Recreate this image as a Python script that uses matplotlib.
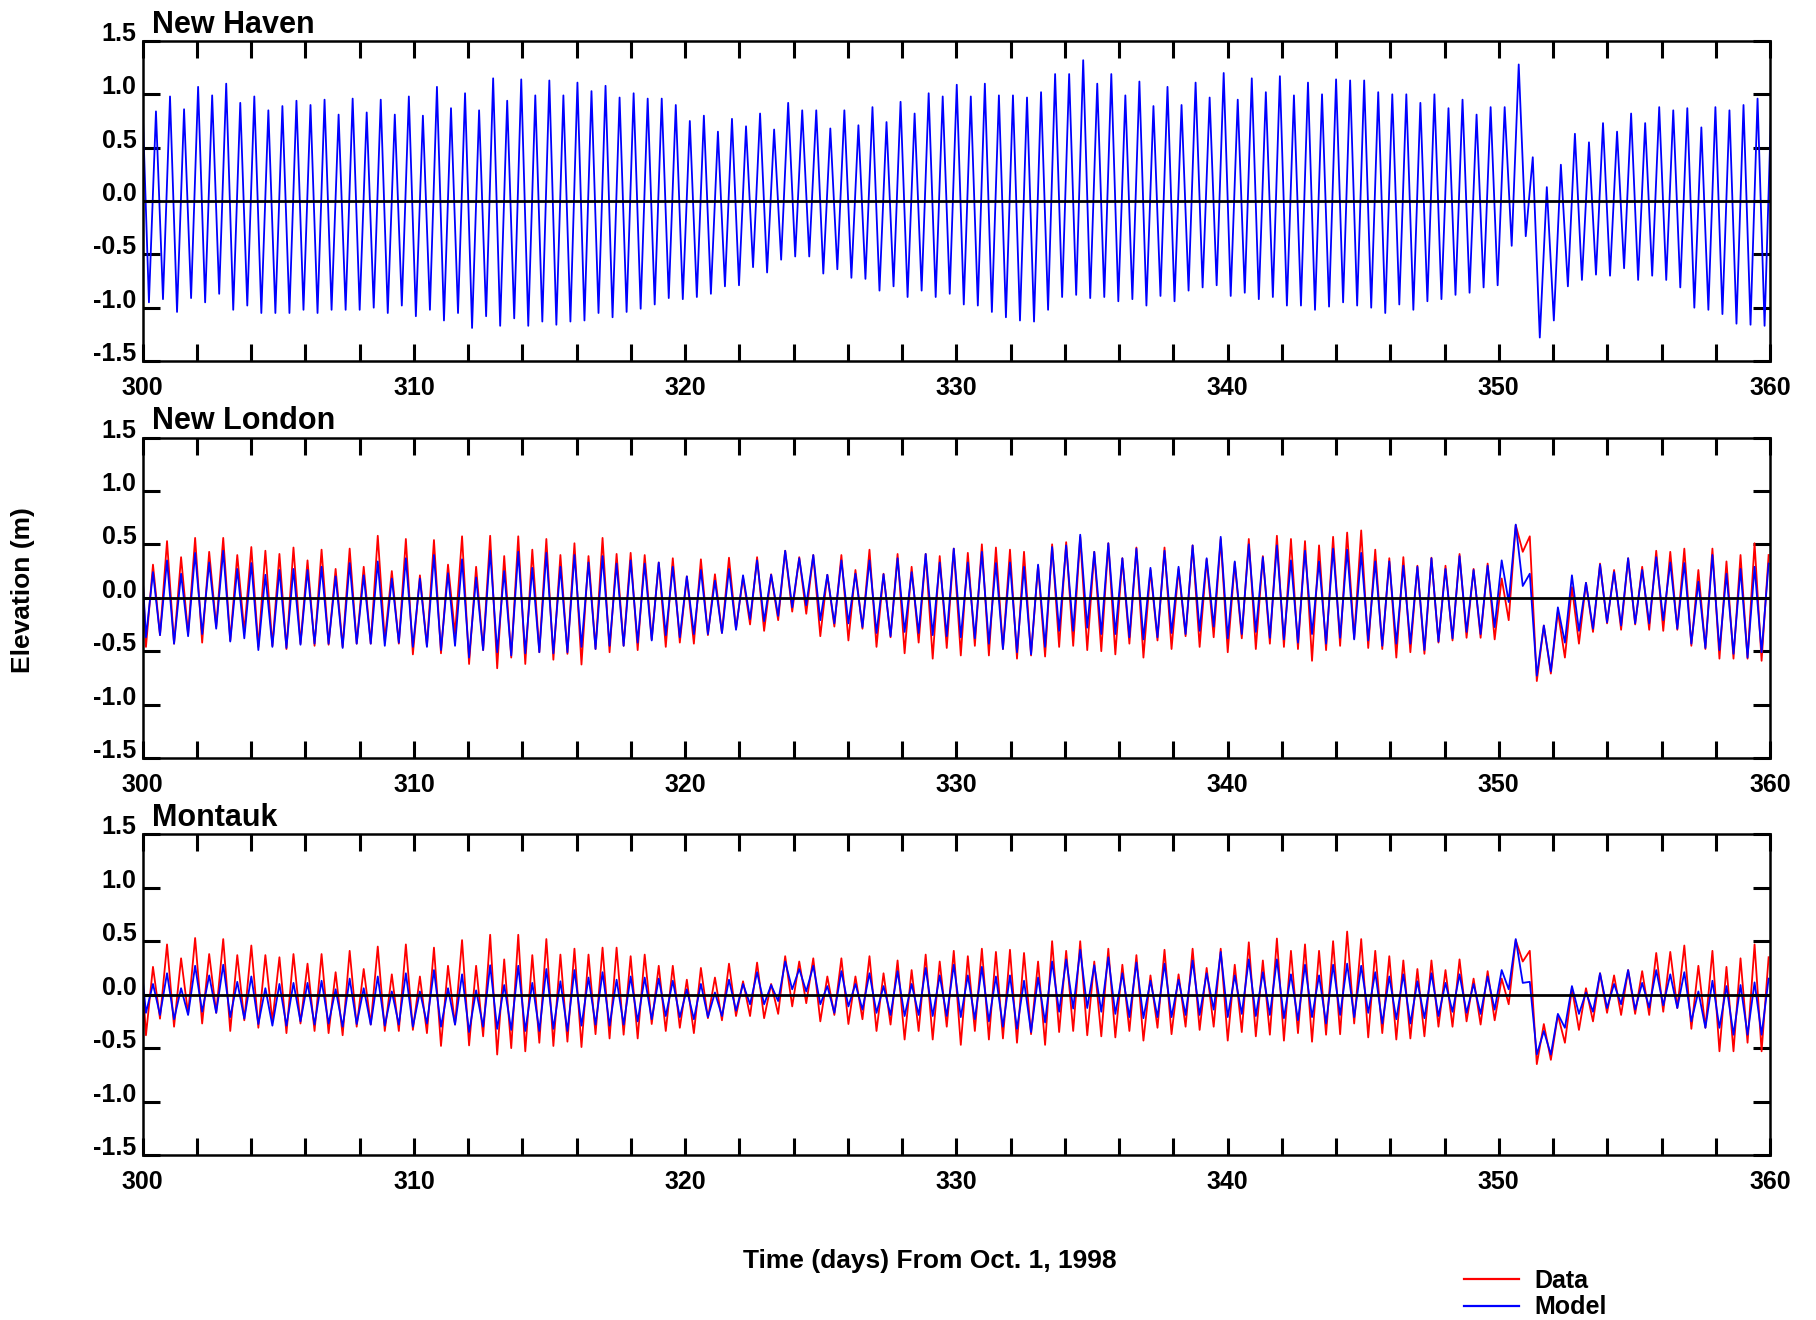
import numpy as np
import matplotlib
matplotlib.use("Agg")
import matplotlib.pyplot as plt
from matplotlib.ticker import MultipleLocator, FixedLocator
from matplotlib.transforms import ScaledTranslation

plt.rcParams["font.family"] = ["Liberation Sans", "DejaVu Sans"]
plt.rcParams["font.weight"] = "bold"

# ---------------- data ----------------
stations = ["New Haven", "New London", "Montauk"]
x_ticks = [300, 310, 320, 330, 340, 350, 360]
x_tick_labels = ["300", "310", "320", "330", "340", "350", "360"]
y_ticks = [-1.5, -1.0, -0.5, 0.0, 0.5, 1.0, 1.5]
y_tick_labels = ["-1.5", "-1.0", "-0.5", "0.0", "0.5", "1.0", "1.5"]
legend_labels = ["Data", "Model"]

# extrema (low, high, low, high ...) spaced by half a semidiurnal cycle
half_period = 0.259
first_low_day = [300.23, 300.12, 300.12]
record_start = 300.0

# New Haven (model)
nh_model_start = 0.85
nh_model_high = [0.84, 0.98, 0.86, 1.07, 0.99, 1.10, 0.92, 0.98, 0.85, 0.89,
                 0.94, 0.90, 0.95, 0.81, 0.96, 0.83, 0.95, 0.81, 0.98, 0.80,
                 1.07, 0.87, 1.01, 0.85, 1.15, 0.94, 1.14, 0.99, 1.13,
                 0.99, 1.11, 1.03, 1.08, 0.97, 1.01, 0.96, 0.96, 0.90, 0.75,
                 0.80, 0.65, 0.77, 0.70, 0.82, 0.67, 0.92, 0.85, 0.85, 0.68,
                 0.85, 0.71, 0.88, 0.74, 0.93, 0.82, 1.01, 0.98, 1.09,
                 0.98,
                 1.10, 0.99, 0.99, 0.97, 1.02, 1.19, 1.19, 1.32, 1.10, 1.19,
                 0.99, 1.12, 0.89, 1.07, 0.90, 1.11, 0.97, 1.20, 0.95, 1.15,
                 1.02, 1.17, 0.99, 1.11, 1.00, 1.14, 1.13, 1.13, 1.02,
                 1.00, 1.00, 0.92, 1.00, 0.87, 0.95, 0.81, 0.88, 0.88, 1.28,
                 0.41, 0.13, 0.34, 0.63, 0.55, 0.73, 0.65, 0.82, 0.73, 0.88,
                 0.85, 0.87, 0.69, 0.88, 0.85, 0.90, 0.96, 1.01]
nh_model_low = [-0.95, -0.92, -1.04, -0.91, -0.95, -0.87, -1.02, -0.98, -1.05, -1.05,
                -1.05, -1.02, -1.05, -1.02, -1.02, -1.02, -1.00, -1.05, -0.98, -1.08,
                -1.02, -1.12, -1.05, -1.19, -1.08, -1.17, -1.10, -1.17, -1.13, -1.16,
                -1.13, -1.12, -1.05, -1.09, -1.04, -1.01, -0.97, -0.91, -0.92, -0.90,
                -0.87, -0.80, -0.79, -0.62, -0.67, -0.55, -0.52, -0.52, -0.68, -0.64,
                -0.72, -0.73, -0.84, -0.80, -0.90, -0.84, -0.90, -0.87, -0.97,
                -0.98, -1.04, -1.09, -1.12, -1.13, -1.02, -0.90, -0.88, -0.91, -0.90,
                -0.94, -0.92, -0.98, -0.89, -0.94, -0.84, -0.81, -0.79, -0.89, -0.86,
                -0.92, -0.90, -0.98, -0.98, -1.02, -0.99, -0.95, -0.98, -1.00,
                -1.05, -0.97, -1.02, -0.94, -0.92, -0.88, -0.86, -0.81, -0.79, -0.42,
                -0.33, -1.28, -1.12, -0.80, -0.74, -0.69, -0.70, -0.63, -0.74, -0.70,
                -0.74, -0.81, -1.00, -1.02, -1.06, -1.15, -1.16, -1.17]

# New London
nl_data_start = 0.19
nl_data_high = [0.31, 0.53, 0.38, 0.56, 0.43, 0.56, 0.40, 0.475, 0.44, 0.41,
                0.47, 0.35, 0.45, 0.27, 0.46, 0.29, 0.58, 0.25, 0.55, 0.21,
                0.54, 0.31, 0.575, 0.29, 0.58, 0.39, 0.575, 0.45, 0.55, 0.40,
                0.51, 0.39, 0.56, 0.41, 0.42, 0.40, 0.33, 0.37, 0.20, 0.36,
                0.22, 0.375, 0.19, 0.38, 0.22, 0.44, 0.38, 0.40, 0.215, 0.40,
                0.26, 0.45, 0.225, 0.41, 0.29, 0.41, 0.39, 0.46, 0.42,
                0.50, 0.47, 0.45, 0.43, 0.30, 0.50, 0.52, 0.57, 0.43, 0.51,
                0.37, 0.47, 0.26, 0.47, 0.27, 0.49, 0.36, 0.55, 0.33, 0.55,
                0.39, 0.58, 0.55, 0.53, 0.49, 0.57, 0.61, 0.63, 0.45,
                0.37, 0.38, 0.30, 0.375, 0.30, 0.41, 0.27, 0.32, 0.18, 0.68,
                0.575, -0.26, -0.13, 0.10, 0.14, 0.32, 0.26, 0.37, 0.29, 0.44,
                0.43, 0.46, 0.26, 0.46, 0.34, 0.40, 0.51, 0.40]
nl_data_low = [-0.46, -0.35, -0.43, -0.34, -0.42, -0.27, -0.40, -0.32, -0.46, -0.45,
               -0.48, -0.43, -0.45, -0.44, -0.46, -0.43, -0.43, -0.40, -0.43, -0.53,
               -0.45, -0.52, -0.34, -0.62, -0.49, -0.66, -0.56, -0.62, -0.51, -0.58,
               -0.525, -0.625, -0.48, -0.51, -0.45, -0.49, -0.39, -0.46, -0.42, -0.43,
               -0.35, -0.33, -0.29, -0.25, -0.31, -0.21, -0.13, -0.15, -0.36, -0.27,
               -0.40, -0.29, -0.46, -0.37, -0.52, -0.42, -0.57, -0.47, -0.54,
               -0.45, -0.54, -0.48, -0.57, -0.54, -0.55, -0.46, -0.45, -0.49, -0.50,
               -0.53, -0.43, -0.56, -0.40, -0.48, -0.36, -0.46, -0.37, -0.51, -0.38,
               -0.48, -0.43, -0.46, -0.48, -0.59, -0.49, -0.45, -0.38, -0.47,
               -0.48, -0.56, -0.51, -0.525, -0.42, -0.40, -0.375, -0.375, -0.39, -0.21,
               0.43, -0.78, -0.71, -0.56, -0.43, -0.32, -0.24, -0.30, -0.25, -0.30,
               -0.31, -0.30, -0.45, -0.48, -0.57, -0.57, -0.57, -0.59]
nl_model_start = 0.19
nl_model_high = [0.24, 0.35, 0.225, 0.42, 0.33, 0.44, 0.27, 0.325, 0.215, 0.26,
                 0.27, 0.26, 0.29, 0.20, 0.325, 0.21, 0.34, 0.18, 0.37, 0.18,
                 0.40, 0.23, 0.36, 0.19, 0.44, 0.25, 0.43, 0.28, 0.42, 0.29,
                 0.40, 0.33, 0.39, 0.32, 0.35, 0.32, 0.33, 0.29, 0.20, 0.26,
                 0.16, 0.27, 0.21, 0.35, 0.215, 0.44, 0.37, 0.40, 0.215, 0.35,
                 0.225, 0.35, 0.22, 0.37, 0.24, 0.41, 0.33, 0.46, 0.33,
                 0.43, 0.325, 0.33, 0.29, 0.31, 0.475, 0.49, 0.59, 0.43, 0.51,
                 0.37, 0.46, 0.28, 0.44, 0.29, 0.49, 0.37, 0.57, 0.34, 0.50,
                 0.38, 0.49, 0.35, 0.44, 0.34, 0.46, 0.45, 0.42, 0.34,
                 0.34, 0.30, 0.29, 0.37, 0.27, 0.39, 0.26, 0.30, 0.35, 0.685,
                 0.225, -0.26, -0.09, 0.21, 0.14, 0.31, 0.24, 0.37, 0.26, 0.38,
                 0.33, 0.325, 0.15, 0.40, 0.225, 0.27, 0.29, 0.32]
nl_model_low = [-0.37, -0.35, -0.43, -0.36, -0.34, -0.29, -0.41, -0.38, -0.49, -0.46,
                -0.47, -0.44, -0.43, -0.43, -0.47, -0.43, -0.43, -0.45, -0.42, -0.46,
                -0.46, -0.49, -0.45, -0.56, -0.49, -0.51, -0.54, -0.52, -0.51, -0.52,
                -0.51, -0.46, -0.48, -0.45, -0.45, -0.42, -0.40, -0.35, -0.37, -0.34,
                -0.34, -0.33, -0.30, -0.20, -0.22, -0.17, -0.09, -0.07, -0.21, -0.24,
                -0.24, -0.275, -0.33, -0.36, -0.32, -0.33, -0.35, -0.36, -0.37,
                -0.38, -0.43, -0.48, -0.51, -0.53, -0.46, -0.31, -0.31, -0.28, -0.34,
                -0.34, -0.37, -0.39, -0.37, -0.33, -0.34, -0.31, -0.27, -0.38, -0.34,
                -0.32, -0.375, -0.39, -0.42, -0.34, -0.43, -0.375, -0.39, -0.40,
                -0.45, -0.43, -0.43, -0.49, -0.41, -0.38, -0.32, -0.34, -0.275, -0.04,
                0.11, -0.73, -0.69, -0.42, -0.31, -0.29, -0.23, -0.26, -0.24, -0.24,
                -0.21, -0.29, -0.43, -0.47, -0.49, -0.525, -0.56, -0.51]

# Montauk
mt_data_start = 0.12
mt_data_high = [0.26, 0.47, 0.34, 0.53, 0.38, 0.52, 0.37, 0.46, 0.37, 0.35,
                0.38, 0.29, 0.38, 0.21, 0.41, 0.24, 0.45, 0.19, 0.47, 0.17,
                0.44, 0.27, 0.51, 0.27, 0.56, 0.33, 0.56, 0.37, 0.52, 0.375,
                0.43, 0.375, 0.44, 0.44, 0.36, 0.375, 0.27, 0.27, 0.14, 0.25,
                0.16, 0.29, 0.125, 0.30, 0.10, 0.36, 0.31, 0.34, 0.17, 0.34,
                0.17, 0.36, 0.20, 0.32, 0.23, 0.375, 0.31, 0.41, 0.36,
                0.43, 0.40, 0.42, 0.39, 0.31, 0.50, 0.41, 0.50, 0.31, 0.43,
                0.28, 0.37, 0.18, 0.42, 0.19, 0.43, 0.25, 0.43, 0.28, 0.49,
                0.32, 0.525, 0.41, 0.47, 0.41, 0.50, 0.59, 0.52, 0.41,
                0.36, 0.32, 0.24, 0.32, 0.23, 0.33, 0.15, 0.22, 0.15, 0.51,
                0.41, -0.275, -0.19, 0.06, 0.06, 0.20, 0.18, 0.23, 0.22, 0.39,
                0.40, 0.46, 0.27, 0.41, 0.26, 0.34, 0.47, 0.35]
mt_data_low = [-0.38, -0.225, -0.30, -0.18, -0.27, -0.17, -0.34, -0.24, -0.31, -0.25,
               -0.36, -0.27, -0.34, -0.36, -0.38, -0.30, -0.28, -0.34, -0.34, -0.33,
               -0.36, -0.48, -0.28, -0.475, -0.39, -0.56, -0.50, -0.53, -0.45, -0.48,
               -0.44, -0.49, -0.37, -0.41, -0.375, -0.41, -0.275, -0.34, -0.31, -0.36,
               -0.22, -0.24, -0.20, -0.20, -0.22, -0.18, -0.11, -0.08, -0.25, -0.19,
               -0.275, -0.23, -0.34, -0.28, -0.42, -0.34, -0.42, -0.30, -0.47,
               -0.34, -0.42, -0.41, -0.45, -0.37, -0.47, -0.35, -0.34, -0.38, -0.39,
               -0.40, -0.34, -0.43, -0.31, -0.37, -0.30, -0.33, -0.30, -0.43, -0.35,
               -0.39, -0.375, -0.43, -0.36, -0.44, -0.375, -0.37, -0.27, -0.40,
               -0.36, -0.42, -0.41, -0.39, -0.30, -0.30, -0.25, -0.28, -0.24, -0.09,
               0.31, -0.65, -0.61, -0.45, -0.33, -0.25, -0.17, -0.19, -0.18, -0.19,
               -0.16, -0.125, -0.32, -0.31, -0.53, -0.53, -0.45, -0.53]
mt_model_start = 0.15
mt_model_high = [0.10, 0.20, 0.06, 0.27, 0.18, 0.28, 0.12, 0.17, 0.06, 0.10,
                 0.11, 0.11, 0.13, 0.05, 0.15, 0.06, 0.17, 0.03, 0.20, 0.03,
                 0.23, 0.06, 0.19, 0.04, 0.275, 0.09, 0.27, 0.11, 0.24, 0.125,
                 0.23, 0.16, 0.21, 0.14, 0.17, 0.16, 0.15, 0.13, 0.05, 0.10,
                 0.02, 0.14, 0.10, 0.21, 0.09, 0.31, 0.24, 0.27, 0.08, 0.22,
                 0.10, 0.20, 0.08, 0.22, 0.10, 0.25, 0.18, 0.28, 0.18,
                 0.26, 0.17, 0.18, 0.13, 0.16, 0.31, 0.33, 0.42, 0.275, 0.35,
                 0.20, 0.30, 0.13, 0.29, 0.14, 0.32, 0.20, 0.40, 0.18, 0.33,
                 0.21, 0.33, 0.19, 0.28, 0.18, 0.28, 0.29, 0.27, 0.21,
                 0.17, 0.19, 0.125, 0.20, 0.11, 0.19, 0.10, 0.17, 0.23, 0.52,
                 0.12, -0.34, -0.18, 0.08, 0.02, 0.20, 0.10, 0.23, 0.11, 0.23,
                 0.19, 0.21, 0.03, 0.13, 0.08, 0.09, 0.115, 0.15]
mt_model_low = [-0.17, -0.19, -0.23, -0.19, -0.16, -0.17, -0.21, -0.225, -0.275, -0.29,
                -0.29, -0.25, -0.28, -0.27, -0.30, -0.275, -0.28, -0.29, -0.28, -0.30,
                -0.27, -0.30, -0.28, -0.35, -0.30, -0.32, -0.33, -0.34, -0.34, -0.32,
                -0.34, -0.29, -0.28, -0.29, -0.28, -0.25, -0.23, -0.20, -0.21, -0.23,
                -0.21, -0.20, -0.15, -0.09, -0.09, -0.06, 0.05, 0.03, -0.09, -0.17,
                -0.11, -0.14, -0.17, -0.19, -0.20, -0.19, -0.20, -0.20, -0.21,
                -0.23, -0.25, -0.30, -0.32, -0.35, -0.26, -0.16, -0.13, -0.125, -0.16,
                -0.18, -0.21, -0.22, -0.21, -0.21, -0.19, -0.19, -0.14, -0.21, -0.18,
                -0.20, -0.19, -0.22, -0.24, -0.21, -0.27, -0.19, -0.21, -0.17,
                -0.27, -0.23, -0.27, -0.22, -0.20, -0.16, -0.17, -0.18, -0.14, 0.05,
                0.11, -0.56, -0.56, -0.31, -0.18, -0.16, -0.125, -0.09, -0.14, -0.12,
                -0.10, -0.125, -0.25, -0.31, -0.31, -0.375, -0.375, -0.375]


def build_series(start, lows, highs, t_first):
    n = min(len(lows), len(highs))
    vals = [start]
    for lo, hi in zip(lows[:n], highs[:n]):
        vals += [lo, hi]
    times = np.concatenate([[record_start], t_first + half_period * np.arange(2 * n)])
    return times, np.array(vals)


panel_data = [
    (None, build_series(nh_model_start, nh_model_low, nh_model_high, first_low_day[0])),
    (build_series(nl_data_start, nl_data_low, nl_data_high, first_low_day[1]),
     build_series(nl_model_start, nl_model_low, nl_model_high, first_low_day[1])),
    (build_series(mt_data_start, mt_data_low, mt_data_high, first_low_day[2]),
     build_series(mt_model_start, mt_model_low, mt_model_high, first_low_day[2])),
]

# ---------------- figure ----------------
W, H = 1816, 1320
fig = plt.figure(figsize=(W / 100, H / 100), dpi=100)
fig.patch.set_facecolor("white")

left = 142.7 / W
width = (1770 - 142.7) / W
panel_px = [(41, 361), (437.5, 758), (834.3, 1155)]

handles = {}
for i, (name, (data_s, model_s)) in enumerate(zip(stations, panel_data)):
    top_px, bot_px = panel_px[i]
    ax = fig.add_axes([left, 1 - bot_px / H, width, (bot_px - top_px) / H])
    if data_s is not None:
        l1, = ax.plot(data_s[0], data_s[1], color="#ff0000", lw=1.3, zorder=2)
        handles["Data"] = l1
    l2, = ax.plot(model_s[0], model_s[1], color="#0000ff", lw=1.3, zorder=2.5)
    handles["Model"] = l2
    ax.axhline(0, color="black", lw=2.0, zorder=3)

    ax.set_xlim(300, 360)
    ax.set_ylim(-1.5, 1.5)
    ax.xaxis.set_major_locator(FixedLocator(x_ticks))
    ax.xaxis.set_minor_locator(MultipleLocator(2))
    ax.set_xticklabels(x_tick_labels, fontsize=18, fontweight="bold")
    ax.yaxis.set_major_locator(FixedLocator(y_ticks))
    ax.set_yticklabels([])
    ax.tick_params(which="both", direction="in", top=True, right=True,
                   length=12.5, width=2.2, colors="black")
    ax.tick_params(axis="x", which="major", pad=10.5)
    for sp in ax.spines.values():
        sp.set_linewidth(1.8)

    off = ScaledTranslation(-4.5 / 72, 5 / 72, fig.dpi_scale_trans)
    for v, s in zip(y_ticks, y_tick_labels):
        ax.text(0, v, s, transform=ax.get_yaxis_transform() + off,
                ha="right", va="center", fontsize=18, fontweight="bold")

    ax.annotate(name, xy=(0, 1), xycoords="axes fraction", xytext=(7, 6),
                textcoords="offset points", ha="left", va="baseline",
                fontsize=22, fontweight="bold")

fig.text(23 / W, 1 - 590 / H, "Elevation (m)", rotation=90, ha="center",
         va="center", fontsize=19, fontweight="bold")
fig.text(930 / W, 1 - 1261 / H, "Time (days) From Oct. 1, 1998", ha="center",
         va="center", fontsize=19, fontweight="bold")

leg = fig.legend([handles["Data"], handles["Model"]], legend_labels,
                 loc="upper left", bbox_to_anchor=(1464 / W, 1 - 1269 / H),
                 frameon=False, handlelength=2.2, handletextpad=0.6,
                 labelspacing=0.1, borderpad=0, borderaxespad=0,
                 prop={"weight": "bold", "size": 18})
for ln in leg.get_lines():
    ln.set_linewidth(1.6)

fig.savefig("out.png", dpi=100, facecolor="white")
